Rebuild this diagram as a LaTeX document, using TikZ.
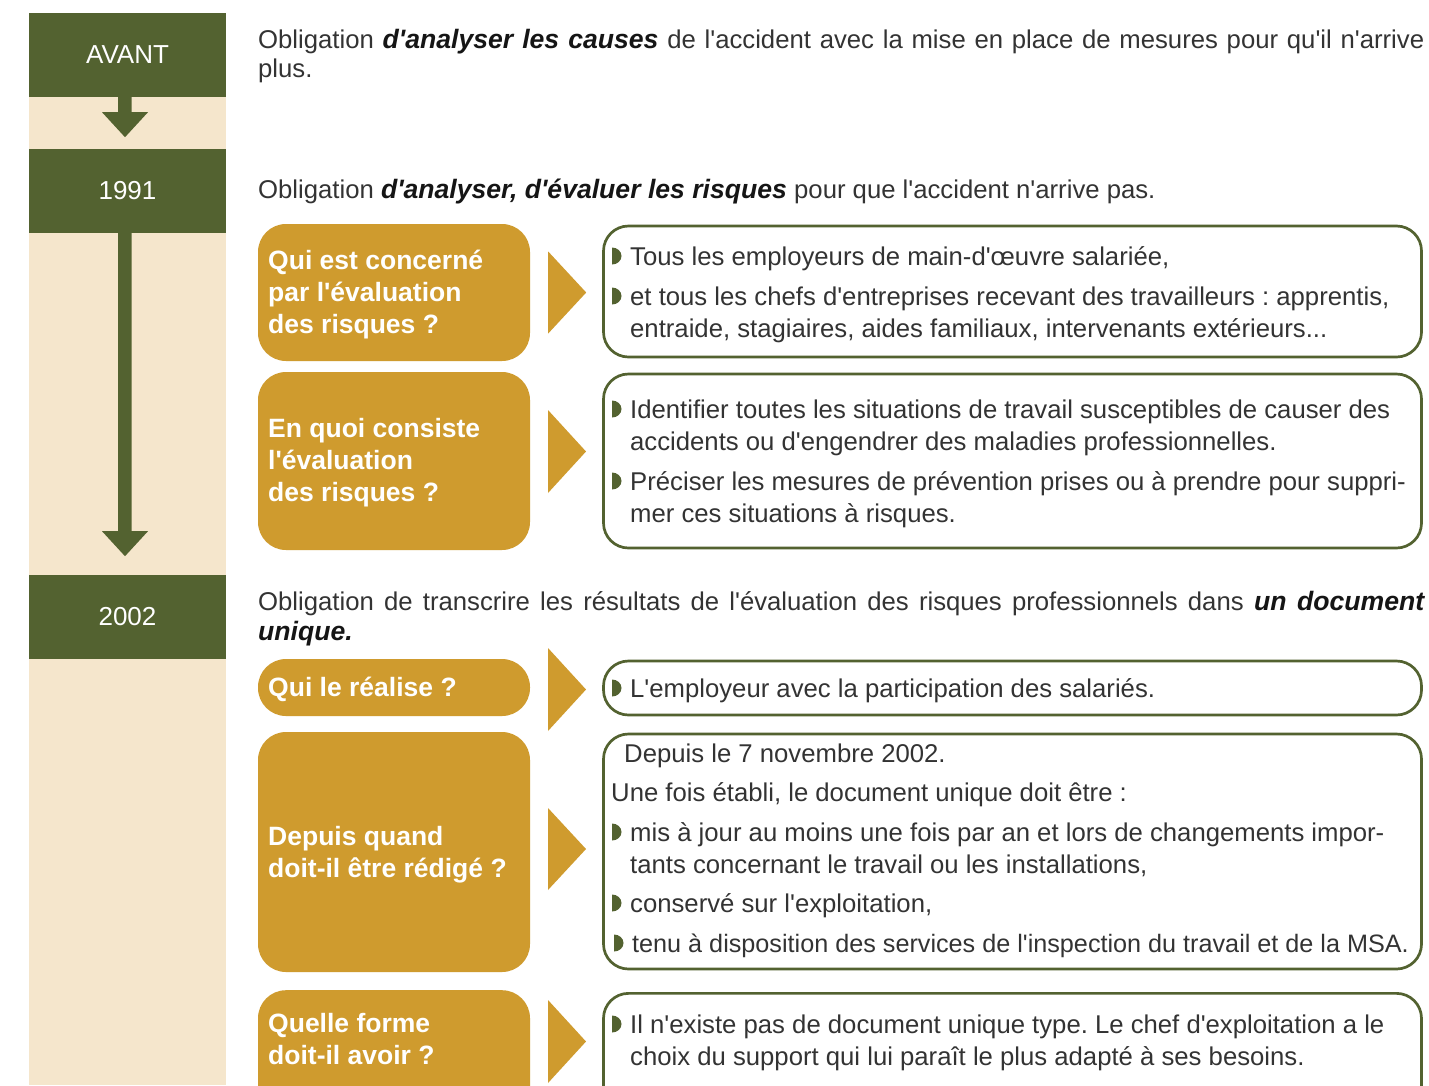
\documentclass[tikz,border=0pt]{standalone}
\usepackage{fontspec}
\setmainfont{Liberation Sans}[Ligatures=TeXOff]
\usetikzlibrary{calc}
\definecolor{dkgreen}{HTML}{536230}
\definecolor{beige}{HTML}{F5E6CC}
\definecolor{gold}{HTML}{CF9B2E}
\definecolor{txt}{HTML}{333333}
\definecolor{txtb}{HTML}{151515}
\frenchspacing
\newcommand{\bi}[1]{{\color{txtb}\bfseries\itshape\fontsize{26.6}{30}\selectfont #1}}
\newcommand{\gbul}[2]{\fill[dkgreen] (#1,#2+0.5) -- ++(0,17) arc[start angle=90,end angle=-90,x radius=9.5,y radius=8.5] -- cycle;}
\begin{document}
\begin{tikzpicture}[x=1pt,y=1pt,
  yearbox/.style={fill=dkgreen, minimum width=197, minimum height=84, inner sep=0, text=white, font=\fontsize{26}{30}\selectfont},
  goldbox/.style={fill=gold, rounded corners=28, minimum width=272, inner sep=0},
  goldtext/.style={anchor=base west, inner sep=0, text=white, font=\bfseries\fontsize{26.5}{32}\selectfont, align=left},
  whitebox/.style={draw=dkgreen, line width=2.7, rounded corners=25, fill=white, minimum width=818, inner sep=0},
  body/.style={anchor=base west, inner sep=0, text=txt, font=\fontsize{25.7}{30}\selectfont},
]
\useasboundingbox (0,0) rectangle (1429,-1085);
\clip (0,0) rectangle (1429,-1085);
\fill[white] (0,0) rectangle (1429,-1085);

% left column
\fill[beige] (29,-97) rectangle (226,-1085);
\node[yearbox] (avant) at (127.5,-55) {AVANT};
\node[yearbox] (y1991) at (127.5,-191) {1991};
\node[yearbox] (y2002) at (127.5,-617) {2002};
\fill[dkgreen] ($(avant.south)+(-9.5,0)$) -- ++(0,-15) -- ++(-16,0) -- ++(23,-25) -- ++(23,25) -- ++(-16.5,0) -- ++(0,15) -- cycle;
\fill[dkgreen] ($(y1991.south)+(-9.5,0)$) -- ++(0,-298) -- ++(-16,0) -- ++(23,-25) -- ++(23,25) -- ++(-16.5,0) -- ++(0,298) -- cycle;

% headings
\node[body] (h1a) at (258,-48) {\makebox[1166pt][s]{Obligation \bi{d'analyser les causes} de l'accident avec la mise en place de mesures pour qu'il n'arrive}};
\node[body] (h1b) at (258,-77) {plus.};
\node[body] (h2) at (258,-198) {Obligation \bi{d'analyser, d'évaluer les risques} pour que l'accident n'arrive pas.};
\node[body] (h3a) at (258,-610) {\makebox[1166pt][s]{Obligation de transcrire les résultats de l'évaluation des risques professionnels dans \bi{un document}}};
\node[body] (h3b) at (258,-640) {\bi{unique.}};

% gold boxes
\node[goldbox, minimum height=137] (g1) at (394,-292.5) {};
\node[goldbox, minimum height=178] (g2) at (394,-461) {};
\node[goldbox, minimum height=57] (g3) at (394,-687.5) {};
\node[goldbox, minimum height=240] (g4) at (394,-852) {};
\node[goldbox, minimum height=130, anchor=north] (g5) at (394,-990) {};
\node[goldtext] (g1t) at (268,-333) {Qui est concerné\\par l'évaluation\\des risques ?};
\node[goldtext] (g2t) at (268,-501) {En quoi consiste\\l'évaluation\\des risques ?};
\node[goldtext] (g3t) at (268,-696) {Qui le réalise ?};
\node[goldtext] (g4t) at (268,-877) {Depuis quand\\doit-il être rédigé ?};
\node[goldtext] (g5t) at (268,-1064) {Quelle forme\\doit-il avoir ?};

% triangles
\fill[gold] ($(g1.east)+(18,41)$) -- ++(0,-82) -- ($(g1.east)+(56,0)$) -- cycle;
\fill[gold] (548,-410) -- (548,-493) -- (586,-451.5) -- cycle;
\fill[gold] (548,-648) -- (548,-731) -- (586,-689.5) -- cycle;
\fill[gold] (548,-808) -- (548,-890) -- (586,-849) -- cycle;
\fill[gold] (548,-1000) -- (548,-1083) -- (586,-1041.5) -- cycle;

% white boxes
\node[whitebox, minimum height=131] (w1) at (1012.5,-291.5) {};
\node[whitebox, minimum height=174] (w2) at (1012.5,-461) {};
\node[whitebox, minimum height=54] (w3) at (1012.5,-688) {};
\node[whitebox, minimum height=235] (w4) at (1012.5,-851.5) {};
\node[whitebox, minimum height=129, anchor=north] (w5) at (1012.5,-992) {};

% box 1 text
\gbul{612}{-265}
\node[body] (w1a) at (630,-265) {Tous les employeurs de main-d'œuvre salariée,};
\gbul{612}{-305}
\node[body] (w1b) at (630,-305) {et tous les chefs d'entreprises recevant des travailleurs : apprentis,};
\node[body] (w1c) at (630,-337) {entraide, stagiaires, aides familiaux, intervenants extérieurs...};

% box 2 text
\gbul{612}{-418}
\node[body] (w2a) at (630,-418) {Identifier toutes les situations de travail susceptibles de causer des};
\node[body] (w2b) at (630,-450) {accidents ou d'engendrer des maladies professionnelles.};
\gbul{612}{-490}
\node[body] (w2c) at (630,-490) {Préciser les mesures de prévention prises ou à prendre pour suppri-};
\node[body] (w2d) at (630,-522) {mer ces situations à risques.};

% box 3 text
\gbul{612}{-697}
\node[body] (w3a) at (630,-697) {L'employeur avec la participation des salariés.};

% box 4 text
\node[body] (w4a) at (624,-762) {Depuis le 7 novembre 2002.};
\node[body] (w4b) at (611,-801) {Une fois établi, le document unique doit être :};
\gbul{612}{-841}
\node[body] (w4c) at (630,-841) {mis à jour au moins une fois par an et lors de changements impor-};
\node[body] (w4d) at (630,-873) {tants concernant le travail ou les installations,};
\gbul{612}{-912}
\node[body] (w4e) at (630,-912) {conservé sur l'exploitation,};
\gbul{614}{-952}
\node[body, font=\fontsize{25.2}{30}\selectfont] (w4f) at (632,-952) {tenu à disposition des services de l'inspection du travail et de la MSA.};

% box 5 text
\gbul{612}{-1033}
\node[body] (w5a) at (630,-1033) {Il n'existe pas de document unique type. Le chef d'exploitation a le};
\node[body] (w5b) at (630,-1065) {choix du support qui lui paraît le plus adapté à ses besoins.};
\end{tikzpicture}
\end{document}
